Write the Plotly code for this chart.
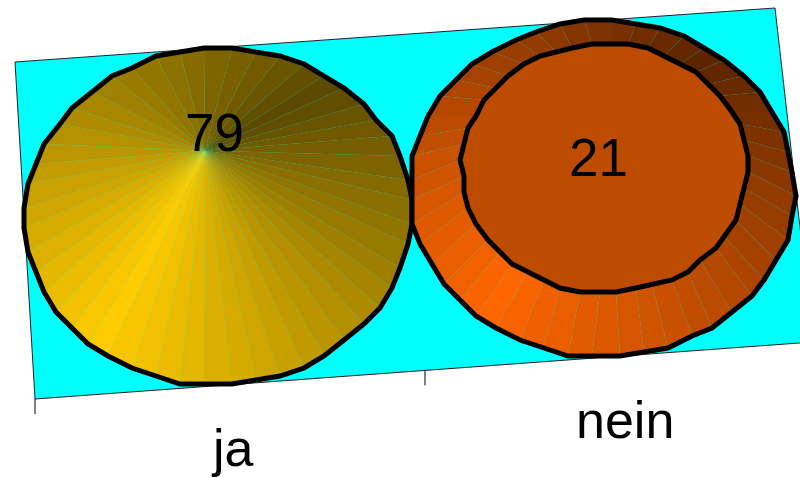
import math
import numpy as np
import plotly.graph_objects as go

categories = ["ja", "nein"]
values = [79, 21]
series_colors = [(255, 204, 0), (255, 102, 0)]

# --- view / style constants ---
W, H = 800, 478
FLOOR_PX = [(15, 62), (775, 8), (813, 342), (35, 399)]  # back-left, back-right, front-right, front-left
VANISH = np.array([468.0, 1466.0])
RISE = 0.001
RISE_POWER = 0.9
FACETS = 48
SNAP = 4
TOP_RATIO = 0.73
LIGHT_DEG = 228
VALUE_POS = [(214, 132), (598, 157)]
CAT_POS = [(232, 448), (625, 420)]
FONT = "Liberation Sans, Arial, sans-serif"
FS = 53
CAT_FS = 52
OUTLINE = 5


def homography(dst):
    src = [(0, 1), (2, 1), (2, 0), (0, 0)]
    A, b = [], []
    for (x, y), (u, v) in zip(src, dst):
        A.append([x, y, 1, 0, 0, 0, -u * x, -u * y]); b.append(u)
        A.append([0, 0, 0, x, y, 1, -v * x, -v * y]); b.append(v)
    h = np.linalg.solve(np.array(A, float), np.array(b, float))
    return np.append(h, 1).reshape(3, 3)


HM = homography(FLOOR_PX)


def project(x, y, z=0.0):
    p = HM @ np.array([x, y, 1.0])
    p = p[:2] / p[2]
    return VANISH + (p - VANISH) * (1 + RISE * z ** RISE_POWER)


def ring(i, radius, z):
    pts = []
    for k in range(FACETS):
        a = 2 * math.pi * k / FACETS
        p = project(i + 0.5 + 0.5 * radius * math.cos(a), 0.5 + 0.5 * radius * math.sin(a), z)
        pts.append(np.round(p / SNAP) * SNAP)
    return pts


def shade(rgb, factor):
    return "rgb(%d,%d,%d)" % tuple(int(round(c * factor)) for c in rgb)


def facet_factor(k):
    # angle of the facet's middle around the cone
    a = 2 * math.pi * (k + 0.5) / FACETS
    screen = math.degrees(math.atan2(math.sin(a), math.cos(a)))
    d = abs((screen - LIGHT_DEG + 180) % 360 - 180)
    return 0.36 + 0.64 * (1 - d / 180)


fig = go.Figure()


def poly(pts, fill=None, line=None, width=0):
    xs = [p[0] for p in pts] + [pts[0][0]]
    ys = [p[1] for p in pts] + [pts[0][1]]
    fig.add_trace(go.Scatter(
        x=xs, y=ys, mode="lines" if line else "none",
        fill="toself" if fill else "none", fillcolor=fill,
        line=dict(color=line, width=width) if line else None,
        hoverinfo="skip", showlegend=False))


# floor
poly([project(0, 1), project(2, 1), project(2, 0), project(0, 0)], fill="#00FFFF", line="#222222", width=1)

# axis tick marks below the front edge
for i in range(len(categories) + 1):
    p = project(i, 0)
    fig.add_trace(go.Scatter(x=[p[0], p[0]], y=[p[1], p[1] + 15], mode="lines",
                             line=dict(color="#000000", width=1), hoverinfo="skip", showlegend=False))

# marks: first category is a pointed cone, second a truncated cone
for i, (val, rgb) in enumerate(zip(values, series_colors)):
    base = ring(i, 1.0, 0)
    top_r = 0.0 if i == 0 else TOP_RATIO
    top = ring(i, top_r, val) if top_r else [project(i + 0.5, 0.5, val)] * FACETS
    for k in range(FACETS):
        n = (k + 1) % FACETS
        pts = [base[k], base[n], top[n]] if not top_r else [base[k], base[n], top[n], top[k]]
        poly(pts, fill=shade(rgb, facet_factor(k)))
    poly(base, line="#000000", width=OUTLINE)
    if top_r:
        poly(top, fill=shade(rgb, 0.74), line="#000000", width=OUTLINE)

annotations = []
for (x, y), v in zip(VALUE_POS, values):
    annotations.append(dict(x=x, y=y, text=str(v), showarrow=False, xanchor="center", yanchor="middle",
                            font=dict(family=FONT, size=FS, color="#000000")))
for (x, y), c in zip(CAT_POS, categories):
    annotations.append(dict(x=x, y=y, text=c, showarrow=False, xanchor="center", yanchor="middle",
                            font=dict(family=FONT, size=CAT_FS, color="#000000")))

fig.update_layout(
    width=W, height=H, autosize=False,
    margin=dict(l=0, r=0, t=0, b=0),
    paper_bgcolor="white", plot_bgcolor="white",
    xaxis=dict(range=[0, W], visible=False, fixedrange=True),
    yaxis=dict(range=[H, 0], visible=False, fixedrange=True),
    annotations=annotations, showlegend=False,
)
fig.write_html("out.html", config={"displayModeBar": False},
               post_script="document.body.style.margin='0';document.body.style.overflow='hidden';")
